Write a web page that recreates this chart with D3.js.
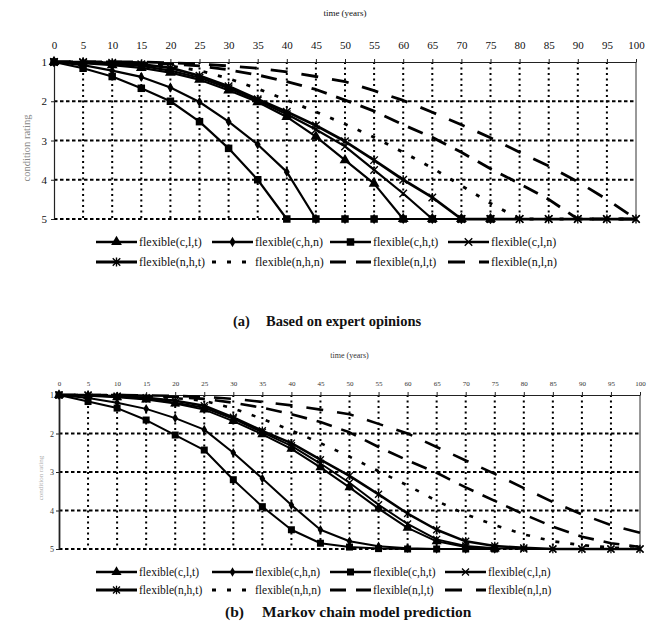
<!DOCTYPE html>
<html><head><meta charset="utf-8">
<script src="https://cdn.jsdelivr.net/npm/d3@7"></script>
<style>
body{margin:0;background:#fff;}
svg{display:block;font-family:"Liberation Serif","Times New Roman",serif;}
</style>
</head><body>
<svg id="c" width="659" height="624"></svg>
<script>
// ---------------- DATA ----------------
const years = [0,5,10,15,20,25,30,35,40,45,50,55,60,65,70,75,80,85,90,95,100];
const ratings = [1,2,3,4,5];
const seriesNames = ["flexible(c,l,t)","flexible(c,h,n)","flexible(c,h,t)","flexible(c,l,n)",
                     "flexible(n,h,t)","flexible(n,h,n)","flexible(n,l,t)","flexible(n,l,n)"];
const xAxisTitle = "time (years)";
const yAxisTitle = "condition rating";
const captionA = ["(a)", "Based on expert opinions"];
const captionB = ["(b)", "Markov chain model prediction"];

// (a) expert opinions
const expertCLT = [1,1.03,1.08,1.15,1.27,1.45,1.72,2.02,2.4,2.9,3.5,4.1,5,5,5,5,null,null,null,null,null];
const expertCHN = [1,1.08,1.22,1.38,1.65,2.02,2.52,3.1,3.8,5,5,5,5,5,5,5,null,null,null,null,null];
const expertCHT = [1,1.16,1.37,1.67,2.0,2.52,3.2,4.0,5,5,5,5,5,5,5,5,null,null,null,null,null];
const expertCLN = [1,1.02,1.05,1.1,1.22,1.4,1.67,1.98,2.33,2.72,3.15,3.75,4.35,5,5,5,5,5,5,5,5];
const expertNHT = [1,1.0,1.02,1.06,1.15,1.35,1.62,1.95,2.27,2.62,3.02,3.5,4.0,4.45,5,5,5,5,5,5,5];
const expertNHN = [1,1,1.02,1.05,1.1,1.22,1.42,1.68,1.97,2.27,2.58,2.92,3.3,3.7,4.15,4.6,5,5,5,5,5];
const expertNLT = [1,1,1,1.02,1.05,1.1,1.2,1.33,1.5,1.7,1.97,2.25,2.6,2.92,3.3,3.72,4.1,4.5,5,5,5];
const expertNLN = [1,1,1,1,1.02,1.05,1.1,1.16,1.25,1.37,1.5,1.73,1.98,2.28,2.6,2.93,3.3,3.65,4.05,4.5,5];

// (b) Markov chain model prediction
const markovCLT = [1,1.02,1.06,1.12,1.22,1.38,1.68,2.02,2.4,2.88,3.4,3.95,4.45,4.8,4.95,4.99,null,null,null,null,null];
const markovCHN = [1,1.08,1.2,1.36,1.6,1.9,2.5,3.17,3.86,4.5,4.8,4.93,4.98,5,5,5,null,null,null,null,null];
const markovCHT = [1,1.17,1.34,1.65,2.04,2.43,3.2,3.9,4.5,4.85,4.95,4.99,5,5,5,5,null,null,null,null,null];
const markovCLN = [1,1.01,1.04,1.1,1.2,1.33,1.62,1.97,2.32,2.78,3.28,3.85,4.35,4.75,4.92,4.98,5,5,5,5,5];
const markovNHT = [1,1.0,1.03,1.07,1.15,1.28,1.58,1.93,2.25,2.68,3.1,3.58,4.08,4.5,4.8,4.92,4.97,5,5,5,5];
const markovNHN = [1,1,1.01,1.03,1.08,1.15,1.35,1.62,1.92,2.25,2.6,2.98,3.35,3.75,4.1,4.38,4.62,4.8,4.9,4.96,5];
const markovNLT = [1,1,1,1.02,1.05,1.1,1.2,1.33,1.5,1.7,1.97,2.35,2.7,3.02,3.4,3.75,4.1,4.42,4.68,4.85,4.95];
const markovNLN = [1,1,1,1.01,1.02,1.05,1.1,1.18,1.27,1.38,1.5,1.75,2.0,2.35,2.7,3.05,3.42,3.78,4.1,4.38,4.58];

const expertData = [expertCLT,expertCHN,expertCHT,expertCLN,expertNHT,expertNHN,expertNLT,expertNLN];
const markovData = [markovCLT,markovCHN,markovCHT,markovCLN,markovNHT,markovNHN,markovNLT,markovNLN];

// ---------------- STYLES ----------------
const styles = [
  {marker:"triangle", dash:null, w:1},
  {marker:"diamond",  dash:null, w:1},
  {marker:"square",   dash:null, w:1},
  {marker:"cross",    dash:null, w:1},
  {marker:"asterisk", dash:null, w:1.25},
  {marker:null, dash:"4,11", w:1.3},
  {marker:null, dash:"16,10", w:1.3},
  {marker:null, dash:"17,14", w:1.3}
];

const svg = d3.select("#c");
const serif = "'Liberation Serif','Times New Roman',serif";

function markerPath(type, s){
  if(type==="triangle") return d3.symbol(d3.symbolTriangle, s*s*0.9)();
  if(type==="diamond")  return d3.symbol(d3.symbolDiamond, s*s*0.55)();
  if(type==="square")   return d3.symbol(d3.symbolSquare, s*s)();
  const h=s/2;
  if(type==="cross") return `M${-h},${-h}L${h},${h}M${-h},${h}L${h},${-h}`;
  if(type==="asterisk") return `M${-h},${-h}L${h},${h}M${-h},${h}L${h},${-h}M0,${-h*1.2}L0,${h*1.2}`;
  return "";
}
function markerAttrs(sel, type, lw){
  if(type==="cross"||type==="asterisk"){
    sel.attr("fill","none").attr("stroke","#000").attr("stroke-width",lw);
  } else sel.attr("fill","#000").attr("stroke","none");
}

function drawPanel(cfg, data){
  const x = d3.scaleLinear().domain([0,100]).range([cfg.x0,cfg.x1]);
  const y = d3.scaleLinear().domain([1,5]).range([cfg.yTop,cfg.yBot]);
  const g = svg.append("g");

  // grid
  g.append("g").selectAll("line").data(years.filter(v=>v>0&&v<100)).join("line")
    .attr("x1",d=>x(d)).attr("x2",d=>x(d)).attr("y1",y(1)).attr("y2",y(5))
    .attr("stroke","#000").attr("stroke-width",cfg.vGridW).attr("stroke-dasharray",cfg.vDash);
  g.append("g").selectAll("line").data(ratings.filter(v=>v>1)).join("line")
    .attr("x1",x(0)).attr("x2",x(100)).attr("y1",d=>y(d)).attr("y2",d=>y(d))
    .attr("stroke","#000").attr("stroke-width",cfg.hGridW).attr("stroke-dasharray",cfg.hDash);

  // frame
  g.append("line").attr("x1",x(100)).attr("x2",x(100)).attr("y1",y(1)).attr("y2",y(5))
    .attr("stroke","#333").attr("stroke-width",1);

  // axes
  const ax = d3.axisTop(x).tickValues(years).tickFormat(d3.format("d"))
    .tickSize(cfg.tick).tickSizeOuter(0).tickPadding(cfg.xPad);
  const axg = g.append("g").attr("transform",`translate(0,${y(1)})`).call(ax)
    .attr("font-family",serif).attr("font-size",cfg.xFont);
  axg.select(".domain").attr("stroke","#222").attr("stroke-width",1.2);
  axg.selectAll(".tick line").attr("stroke","#222");
  axg.selectAll("text").attr("fill",cfg.tickColor);

  const ay = d3.axisLeft(y).tickValues(ratings).tickFormat(d3.format("d"))
    .tickSize(cfg.tick).tickSizeOuter(0).tickPadding(cfg.yPad);
  const ayg = g.append("g").attr("transform",`translate(${x(0)},0)`).call(ay)
    .attr("font-family",serif).attr("font-size",cfg.yFont);
  ayg.select(".domain").attr("stroke","#222").attr("stroke-width",cfg.leftW);
  ayg.selectAll(".tick line").attr("stroke","#222");
  ayg.selectAll("text").attr("fill",cfg.tickColor);

  // axis titles
  g.append("text").attr("x",x(50)).attr("y",cfg.titleY).attr("text-anchor","middle")
    .attr("font-size",cfg.titleFont).attr("fill",cfg.tickColor).text(xAxisTitle);
  g.append("text").attr("transform",`translate(${cfg.ylabX},${cfg.ylabY}) rotate(-90)`)
    .attr("text-anchor","middle").attr("font-size",cfg.ylabFont).attr("fill",cfg.ylabColor).text(yAxisTitle);

  // series
  const line = d3.line().defined(d=>d[1]!=null).x(d=>x(d[0])).y(d=>y(d[1]));
  data.forEach((vals,i)=>{
    const st = styles[i];
    const pts = years.map((t,j)=>[t,vals[j]]);
    g.append("path").datum(pts).attr("d",line).attr("fill","none")
      .attr("stroke","#000").attr("stroke-width",cfg.lineW*st.w)
      .attr("stroke-dasharray",st.dash).attr("stroke-linejoin","round");
    if(st.marker){
      const m = g.append("g").selectAll("path").data(pts.filter(d=>d[1]!=null)).join("path")
        .attr("transform",d=>`translate(${x(d[0])},${y(d[1])})`)
        .attr("d",markerPath(st.marker,cfg.ms));
      markerAttrs(m, st.marker, cfg.mw);
    }
  });

  // legend
  seriesNames.forEach((name,i)=>{
    const st = styles[i];
    const col = i%4, row = Math.floor(i/4);
    const lx = cfg.legX[col], ly = cfg.legY[row];
    const lg = g.append("g");
    lg.append("line").attr("x1",lx).attr("x2",lx+cfg.legLen).attr("y1",ly).attr("y2",ly)
      .attr("stroke","#000").attr("stroke-width",cfg.legLineW*st.w).attr("stroke-dasharray",st.dash);
    if(st.marker){
      const m = lg.append("path").attr("transform",`translate(${lx+cfg.legLen/2},${ly})`)
        .attr("d",markerPath(st.marker,cfg.ms));
      markerAttrs(m, st.marker, cfg.mw);
    }
    lg.append("text").attr("x",lx+cfg.legLen+2).attr("y",ly+4)
      .attr("font-size",cfg.legFont).attr("fill","#111").text(name);
  });

  // caption
  const cap = cfg.caption;
  g.append("text").attr("x",cfg.capX[0]).attr("y",cfg.capY).attr("font-weight","bold")
    .attr("font-size",cfg.capFont).attr("fill","#111").text(cap[0]);
  g.append("text").attr("x",cfg.capX[1]).attr("y",cfg.capY).attr("font-weight","bold")
    .attr("font-size",cfg.capFont).attr("fill","#111").text(cap[1]);
}

drawPanel({
  x0:54, x1:636, yTop:62, yBot:219,
  vGridW:2, vDash:"2,3.5", hGridW:2, hDash:"3.5,2.5",
  tick:3, xPad:10, yPad:4, xFont:11, yFont:11, tickColor:"#111", leftW:1.2,
  titleY:16, titleFont:9, ylabX:30, ylabY:148, ylabFont:10.5, ylabColor:"#888",
  lineW:2.2, ms:7.5, mw:1.4,
  legX:[96,212,330,448], legY:[242,262], legLen:41, legLineW:2.4, legFont:12,
  caption:captionA, capX:[233,266], capY:326, capFont:14.5
}, expertData);

drawPanel({
  x0:59, x1:640, yTop:395, yBot:549,
  vGridW:2, vDash:"2,3.5", hGridW:2, hDash:"3.5,2.5",
  tick:3, xPad:6, yPad:2, xFont:7, yFont:8, tickColor:"#333", leftW:1.8,
  titleY:358, titleFont:8, ylabX:43, ylabY:478, ylabFont:7, ylabColor:"#aaa",
  lineW:2.0, ms:7, mw:1.3,
  legX:[96,212,330,445], legY:[572,590], legLen:41, legLineW:2.4, legFont:11.5,
  caption:captionB, capX:[225,262], capY:617, capFont:15.5
}, markovData);
</script>
</body></html>
